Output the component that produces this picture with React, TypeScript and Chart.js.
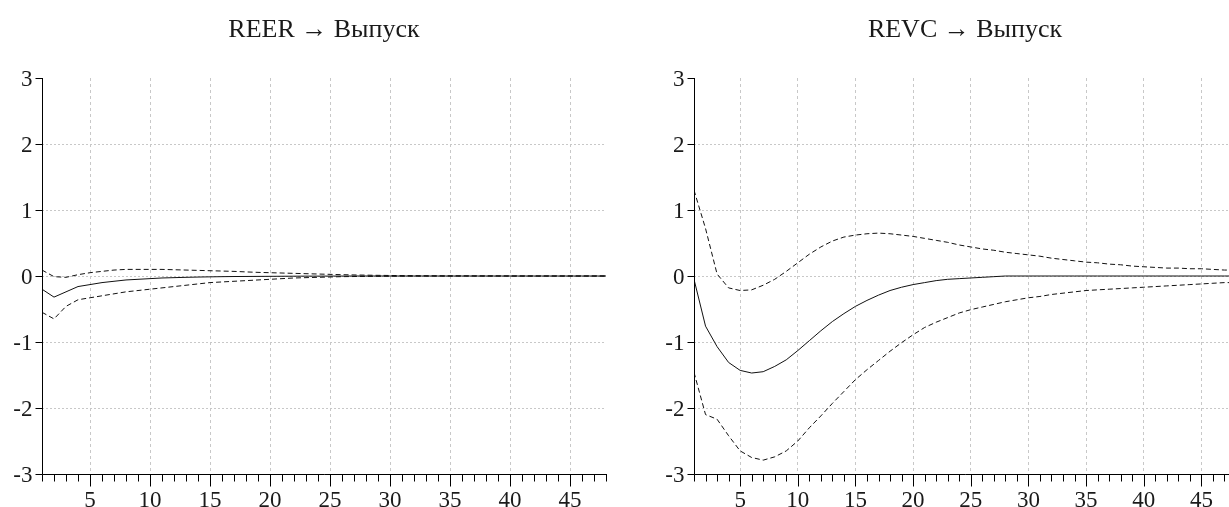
import React, { useEffect, useRef } from "react";
import { Chart, registerables } from "chart.js";

Chart.register(...registerables);

// Horizon (periods)
const periods = [
  1, 2, 3, 4, 5, 6, 7, 8, 9, 10, 11, 12, 13, 14, 15, 16, 17, 18, 19, 20, 21, 22, 23, 24,
  25, 26, 27, 28, 29, 30, 31, 32, 33, 34, 35, 36, 37, 38, 39, 40, 41, 42, 43, 44, 45, 46, 47, 48,
];
const xTickLabels = [5, 10, 15, 20, 25, 30, 35, 40, 45];
const yTickValues = [-3, -2, -1, 0, 1, 2, 3];

const titleReer = "REER \u2192 Выпуск";
const titleRevc = "REVC \u2192 Выпуск";

// REER -> output
const reerMid = [
  -0.2, -0.32, -0.24, -0.16, -0.13, -0.1, -0.08, -0.06, -0.05, -0.04, -0.03, -0.025,
  -0.02, -0.016, -0.013, -0.01, -0.008, -0.007, -0.006, -0.005, -0.004, -0.003, -0.002, -0.002,
  -0.001, -0.001, 0, 0, 0, 0, 0, 0, 0, 0, 0, 0, 0, 0, 0, 0, 0, 0, 0, 0, 0, 0, 0, 0,
];
const reerUpper = [
  0.09, -0.01, -0.02, 0.02, 0.05, 0.07, 0.09, 0.1, 0.1, 0.1, 0.1, 0.095,
  0.09, 0.085, 0.08, 0.075, 0.07, 0.062, 0.055, 0.05, 0.045, 0.04, 0.035, 0.03,
  0.025, 0.02, 0.016, 0.013, 0.01, 0.008, 0.006, 0.005, 0.004, 0.003, 0.002, 0.002,
  0.001, 0.001, 0.001, 0, 0, 0, 0, 0, 0, 0, 0, 0,
];
const reerLower = [
  -0.55, -0.65, -0.46, -0.36, -0.33, -0.3, -0.27, -0.24, -0.22, -0.2, -0.18, -0.16,
  -0.14, -0.12, -0.1, -0.09, -0.08, -0.07, -0.06, -0.05, -0.04, -0.03, -0.025, -0.02,
  -0.015, -0.01, -0.008, -0.006, -0.005, -0.004, -0.003, -0.002, -0.002, -0.001, -0.001, 0,
  0, 0, 0, 0, 0, 0, 0, 0, 0, 0, 0, 0,
];

// REVC -> output
const revcMid = [
  -0.05, -0.76, -1.07, -1.31, -1.43, -1.47, -1.45, -1.37, -1.27, -1.13, -0.98, -0.83,
  -0.69, -0.57, -0.46, -0.37, -0.29, -0.22, -0.17, -0.13, -0.1, -0.07, -0.05, -0.04,
  -0.03, -0.02, -0.01, 0, 0, 0, 0, 0, 0, 0, 0, 0, 0, 0, 0, 0, 0, 0, 0, 0, 0, 0, 0, 0,
];
const revcUpper = [
  1.3, 0.72, 0.03, -0.18, -0.22, -0.21, -0.14, -0.05, 0.07, 0.2, 0.33, 0.44,
  0.53, 0.59, 0.62, 0.64, 0.65, 0.64, 0.62, 0.6, 0.57, 0.54, 0.51, 0.47,
  0.44, 0.41, 0.39, 0.36, 0.34, 0.32, 0.3, 0.27, 0.25, 0.23, 0.21, 0.2,
  0.18, 0.17, 0.15, 0.14, 0.13, 0.12, 0.12, 0.11, 0.11, 0.1, 0.09, 0.09,
];
const revcLower = [
  -1.46, -2.1, -2.17, -2.42, -2.65, -2.75, -2.79, -2.74, -2.65, -2.5, -2.3, -2.12,
  -1.93, -1.75, -1.57, -1.42, -1.28, -1.14, -1.01, -0.89, -0.78, -0.7, -0.63, -0.56,
  -0.51, -0.47, -0.43, -0.39, -0.36, -0.33, -0.31, -0.28, -0.26, -0.24, -0.22, -0.21,
  -0.2, -0.19, -0.18, -0.17, -0.16, -0.15, -0.14, -0.13, -0.12, -0.11, -0.1, -0.1,
];

const FONT = "'Liberation Serif', 'Times New Roman', serif";
const TEXT = "#1a1a1a";
const GRID = "#c8c8c8";

const axesPlugin = {
  id: "serifAxes",
  afterDraw(chart: any) {
    const { ctx, chartArea, scales } = chart;
    const { left, right, top, bottom } = chartArea;
    const xs = scales.x;
    const ys = scales.y;
    ctx.save();
    ctx.strokeStyle = "#000";
    ctx.lineWidth = 1;
    const ax = Math.round(left) + 0.5;
    const ay = Math.round(bottom) + 0.5;
    ctx.beginPath();
    ctx.moveTo(ax, Math.round(top));
    ctx.lineTo(ax, ay);
    ctx.lineTo(Math.round(right) + 1, ay);
    ctx.stroke();

    ctx.font = `23px ${FONT}`;
    ctx.fillStyle = TEXT;
    // y ticks
    ctx.textAlign = "right";
    ctx.textBaseline = "middle";
    yTickValues.forEach((v) => {
      const py = Math.round(ys.getPixelForValue(v)) + 0.5;
      ctx.beginPath();
      ctx.moveTo(ax - 7, py);
      ctx.lineTo(ax, py);
      ctx.stroke();
      ctx.fillText(String(v), ax - 10, py + 1);
    });
    // x ticks
    ctx.textAlign = "center";
    ctx.textBaseline = "alphabetic";
    periods.forEach((p) => {
      const px = Math.round(xs.getPixelForValue(p)) + 0.5;
      const major = xTickLabels.includes(p);
      ctx.beginPath();
      ctx.moveTo(px, ay);
      ctx.lineTo(px, ay + (major ? 12 : 7));
      ctx.stroke();
    });
    xTickLabels.forEach((p) => {
      const px = xs.getPixelForValue(p);
      ctx.fillText(String(p), px, ay + 32);
    });
    ctx.restore();
  },
};

function makeConfig(title: string, mid: number[], upper: number[], lower: number[], padRight: number, padLeft: number) {
  const pts = (arr: number[]) => arr.map((v, i) => ({ x: periods[i], y: v }));
  const lineBase = {
    borderColor: "#111",
    borderWidth: 1,
    pointRadius: 0,
    tension: 0,
    fill: false,
  };
  return {
    type: "line",
    data: {
      datasets: [
        { ...lineBase, label: "upper", data: pts(upper), borderDash: [5, 3] },
        { ...lineBase, label: "response", data: pts(mid) },
        { ...lineBase, label: "lower", data: pts(lower), borderDash: [5, 3] },
      ],
    },
    options: {
      animation: false,
      responsive: false,
      devicePixelRatio: 1,
      layout: { padding: { left: padLeft, right: padRight, top: 0, bottom: 33 } },
      plugins: {
        legend: { display: false },
        tooltip: { enabled: false },
        title: {
          display: true,
          text: title,
          color: TEXT,
          font: { family: FONT, size: 26, weight: "normal", lineHeight: 1.2 },
          padding: { top: 15, bottom: 31.8 },
        },
      },
      scales: {
        x: {
          type: "linear",
          min: 1,
          max: 48,
          ticks: { display: false, stepSize: 1 },
          grid: {
            drawTicks: false,
            lineWidth: 1,
            color: (c: any) => (c.tick && c.tick.value % 5 === 0 ? GRID : "rgba(0,0,0,0)"),
          },
          border: { display: false, dash: [3, 3] },
        },
        y: {
          type: "linear",
          min: -3,
          max: 3,
          ticks: { display: false, stepSize: 1 },
          grid: {
            drawTicks: false,
            lineWidth: 1,
            color: (c: any) =>
              c.tick && c.tick.value > -3 && c.tick.value < 3 ? GRID : "rgba(0,0,0,0)",
          },
          border: { display: false, dash: [2, 2] },
        },
      },
    },
    plugins: [axesPlugin],
  };
}

function Panel(props: { title: string; mid: number[]; upper: number[]; lower: number[]; left: number; width: number; padLeft: number; padRight: number }) {
  const ref = useRef<HTMLCanvasElement | null>(null);
  useEffect(() => {
    if (!ref.current) return;
    const chart = new Chart(
      ref.current,
      makeConfig(props.title, props.mid, props.upper, props.lower, props.padRight, props.padLeft) as any
    );
    return () => chart.destroy();
  }, []);
  return (
    <canvas
      ref={ref}
      width={props.width}
      height={507}
      style={{ position: "absolute", left: props.left, top: 0, width: props.width, height: 507 }}
    />
  );
}

export default function App() {
  return (
    <div
      style={{
        position: "fixed",
        left: 0,
        top: 0,
        width: 1229,
        height: 507,
        overflow: "hidden",
        background: "#fff",
      }}
    >
      <Panel title={titleReer} mid={reerMid} upper={reerUpper} lower={reerLower} left={0} width={620} padLeft={42} padRight={14} />
      <Panel title={titleRevc} mid={revcMid} upper={revcUpper} lower={revcLower} left={620} width={640} padLeft={74} padRight={24} />
    </div>
  );
}
